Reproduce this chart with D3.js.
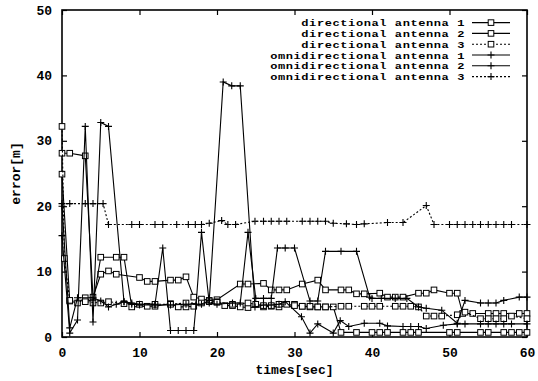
<!DOCTYPE html>
<html>
<head>
<meta charset="utf-8">
<script src="https://cdn.jsdelivr.net/npm/d3@7"></script>
<style>
  body { margin: 0; background: #fff; }
  text { font-family: "Liberation Mono", "DejaVu Sans Mono", monospace; font-weight: bold; font-size: 13px; fill: #000; }
</style>
</head>
<body>
<script>
// chart data
const xTicks = [0, 10, 20, 30, 40, 50, 60];
const yTicks = [0, 10, 20, 30, 40, 50];
const seriesNames = ['directional antenna 1', 'directional antenna 2', 'directional antenna 3',
                     'omnidirectional antenna 1', 'omnidirectional antenna 2', 'omnidirectional antenna 3'];

const dir1 = [[0,28.1],[1,28.1],[3,27.7],[4,6.1],[5,9.6],[6,10.1],[7,9.6],[10,9.1],[11,8.5],[12,8.5],[14,8.7],[15,8.7],[16,9.2],[17,6.1],[18,5.8],[19,5.6],[20,5.7],[23,8.1],[24,8.1],[26,8.2],[27,7.2],[28,7.2],[29,7.2],[31,8.1],[33,8.7],[34,7.2],[36,7.2],[37,7.2],[38,6.6],[39,6.6],[41,6.7],[42,6.1],[43,6.1],[44,6.1],[46,6.7],[47,6.7],[48,7.2],[50,6.7],[51,6.7],[51.7,3.6],[53,3.6],[55,3.6],[56,3.6],[57,3.6],[59,3.6],[60,3.6]];
const dir2 = [[0,24.9],[1,5.5],[2,5.2],[3,6.0],[4,5.2],[5,12.2],[7,12.2],[8,12.2],[9,4.6],[11,4.7],[12,4.7],[14,5.1],[15,4.6],[16,4.6],[17,4.7],[19,5.4],[20,5.4],[21,4.8],[22,4.8],[23,4.6],[24,4.5],[26,4.6],[27,4.7],[28,4.6],[30,5.0],[31,4.7],[32,4.6],[33,4.6],[34,4.6],[35,4.6],[36,0.7],[38,0.7],[40,0.7],[41,0.7],[42,0.7],[44,0.7],[45,0.7],[46,0.7],[50,0.7],[51,0.7],[54,0.7],[55,0.7],[57,0.7],[58,0.7],[59,0.7],[60,0.7]];
const dir3 = [[0,32.2],[0.3,12],[1,5.6],[3,5.4],[5,5.2],[6,5.4],[8,5.1],[10,5.0],[12,5.0],[14,5.0],[16,5.2],[18,5.2],[20,5.3],[22,5.0],[24,5.2],[25,5.0],[26,4.8],[27,4.8],[28,5.0],[29,5.0],[30,4.8],[31,4.7],[32,4.7],[33,4.6],[34,4.6],[36,4.7],[37,4.7],[39,4.7],[40,4.7],[41,4.7],[43,4.7],[44,4.7],[45,4.7],[46,4.6],[47,3.2],[48,3.2],[49,3.2],[51,3.4],[52,3.8],[54,2.8],[55,2.8],[56,2.8],[57,2.8],[58,3.2],[60,2.8]];
const omni1 = [[0,15.5],[1,0.6],[2,2.6],[3,32.2],[4,2.3],[5,32.8],[6,32.2],[8,5.4],[9,5.2],[10,5.0],[12,5.0],[13,13.6],[14,1],[15,1],[16,1],[17,1],[17.3,5],[18,16],[19,5.2],[20,5.0],[22,5.2],[23,5.2],[24,16],[25,5.9],[26,5.9],[27,5.9],[27.8,13.6],[28.8,13.6],[30,13.6],[32,5.5],[33,5.5],[34,13.1],[36,13.1],[38,13.1],[39.7,6.1],[40,5.9],[41.2,5.9],[43,5.9],[44.5,5.9],[46,4.6],[47,4.4],[49,4.1],[51,2.1],[52,5.6],[54,5.2],[55,5.2],[56,5.2],[57,5.6],[59,6.1],[60,6.1]];
const omni2 = [[0,20],[1,1.4],[2,6],[4,6],[5,5.5],[6,4.6],[7,5],[8,5.4],[9,5.0],[10,4.9],[12,4.9],[14,4.9],[16,5],[18,5],[19,5.6],[20.8,39],[21.9,38.4],[23,38.4],[24.9,4.6],[26,4.9],[27,4.9],[28,5.0],[28.8,5.4],[30.9,3.1],[32,0.6],[33,2],[35,0.6],[35.9,2.5],[37,1.6],[39,2.1],[41,2.1],[42,1.7],[44,1.6],[45,1.6],[46,1.6],[47,1.3],[49.2,1.8],[51,2],[52,2],[54,2],[55,2],[56,2],[57,2],[58,2],[60,2]];
const omni3 = [[0,20.4],[1,20.4],[3,20.4],[4,20.4],[5.3,20.4],[6,17.2],[9,17.2],[10,17.2],[12,17.2],[13,17.2],[14.8,17.2],[16.3,17.2],[17.2,17.2],[18,17.2],[19,17.4],[20.6,17.8],[21.4,17.2],[22.4,17.2],[24.9,17.7],[26,17.7],[27,17.7],[28,17.7],[29,17.7],[31,17.7],[32,17.7],[33,17.7],[34,17.7],[35,17.4],[36.7,17.3],[38,17.2],[39,17.3],[42,17.5],[44,17.5],[47,20.1],[48,17.2],[50,17.2],[51,17.2],[52,17.2],[53,17.2],[54,17.2],[55,17.2],[56,17.2],[57,17.2],[58,17.2],[60,17.2]];

const width = 538;
const height = 381;
const plot = { left: 62, right: 527, top: 10, bottom: 337 };

// line style per series: dash pattern and marker
const styles = [
  { dash: null, mark: 'square' },
  { dash: null, mark: 'square' },
  { dash: '2,2', mark: 'square' },
  { dash: null, mark: 'plus' },
  { dash: null, mark: 'plus' },
  { dash: '2,2', mark: 'plus' }
];
const series = [dir1, dir2, dir3, omni1, omni2, omni3];

let svg = d3.select('body').append('svg')
  .attr('width', width)
  .attr('height', height);

svg.append('rect').attr('width', width).attr('height', height).attr('fill', '#fff');

let x = d3.scaleLinear().domain([0, 60]).range([plot.left, plot.right]);
let y = d3.scaleLinear().domain([0, 50]).range([plot.bottom, plot.top]);

// axes: ticks point inward, top/right mirrored without labels
svg.append('g')
  .attr('transform', `translate(0,${plot.bottom})`)
  .call(d3.axisBottom(x).tickValues(xTicks).tickSize(-5).tickPadding(11).tickFormat(d3.format('d')))
  .call(g => g.select('.domain').remove());
svg.append('g')
  .attr('transform', `translate(0,${plot.top})`)
  .call(d3.axisTop(x).tickValues(xTicks).tickSize(-5).tickFormat(''))
  .call(g => g.select('.domain').remove());
svg.append('g')
  .attr('transform', `translate(${plot.left},0)`)
  .call(d3.axisLeft(y).tickValues(yTicks).tickSize(-5).tickPadding(10).tickFormat(d3.format('d')))
  .call(g => g.select('.domain').remove());
svg.append('g')
  .attr('transform', `translate(${plot.right},0)`)
  .call(d3.axisRight(y).tickValues(yTicks).tickSize(-5).tickFormat(''))
  .call(g => g.select('.domain').remove());

svg.selectAll('.tick line').attr('stroke', '#000').attr('stroke-width', 1.2);
svg.selectAll('.tick text').style('font-size', '13px');

// border
svg.append('rect')
  .attr('x', plot.left).attr('y', plot.top)
  .attr('width', plot.right - plot.left).attr('height', plot.bottom - plot.top)
  .attr('fill', 'none').attr('stroke', '#000').attr('stroke-width', 1.6);

// axis titles
svg.append('text')
  .attr('x', (plot.left + plot.right) / 2).attr('y', 374)
  .attr('text-anchor', 'middle')
  .text('times[sec]');
svg.append('text')
  .attr('transform', `translate(20,${(plot.top + plot.bottom) / 2}) rotate(-90)`)
  .attr('text-anchor', 'middle')
  .text('error[m]');

function marker(sel, kind) {
  if (kind === 'square') {
    sel.append('rect')
      .attr('x', -2.8).attr('y', -2.8).attr('width', 5.6).attr('height', 5.6)
      .attr('fill', '#fff').attr('stroke', '#000').attr('stroke-width', 1);
  } else {
    sel.append('path')
      .attr('d', 'M-3.5,0H3.5M0,-3.5V3.5')
      .attr('stroke', '#000').attr('stroke-width', 1.1);
  }
}

let line = d3.line().x(d => x(d[0])).y(d => y(d[1]));

let lines = svg.append('g').classed('lines', true);
series.forEach((data, i) => {
  let g = lines.append('g');
  g.append('path')
    .datum(data)
    .attr('d', line)
    .attr('fill', 'none')
    .attr('stroke', '#000')
    .attr('stroke-width', 1.1)
    .attr('stroke-dasharray', styles[i].dash);
  g.selectAll('.pt')
    .data(data)
    .enter()
    .append('g')
    .classed('pt', true)
    .attr('transform', d => `translate(${x(d[0])},${y(d[1])})`)
    .each(function () { marker(d3.select(this), styles[i].mark); });
});

// legend, top right; rows are tight, so the text is squeezed a little vertically
let legend = svg.append('g').classed('legend', true);
seriesNames.forEach((name, i) => {
  let ly = 22.6 + i * 10.8;
  legend.append('text')
    .attr('transform', `translate(465,${ly + 3.5}) scale(1,0.78)`)
    .attr('text-anchor', 'end')
    .style('font-size', '12px')
    .style('letter-spacing', '0.6px')
    .text(name);
  legend.append('line')
    .attr('x1', 472).attr('x2', 510).attr('y1', ly).attr('y2', ly)
    .attr('stroke', '#000').attr('stroke-width', 1.1)
    .attr('stroke-dasharray', styles[i].dash);
  let m = legend.append('g').attr('transform', `translate(491,${ly})`);
  marker(m, styles[i].mark);
});
</script>
</body>
</html>
